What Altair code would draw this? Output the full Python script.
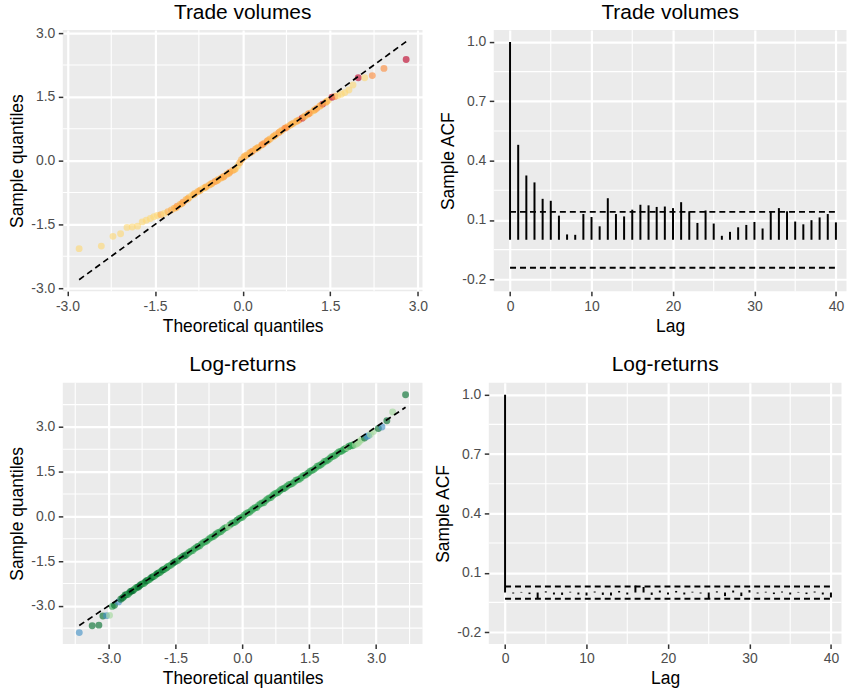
import altair as alt
import pandas as pd

FONT = "Liberation Sans"
PANEL_BG = "#EBEBEB"

# ---------------- Trade volumes: normal QQ plot ----------------
tv_theo = [-2.80, -2.42, -2.22, -2.09, -1.98, -1.89, -1.80, -1.72, -1.65, -1.58,
           -1.52, -1.46, -1.40, -1.34, -1.28, -1.22, -1.17, -1.12, -1.07, -1.02,
           -0.97, -0.92, -0.87, -0.82, -0.77, -0.72, -0.67, -0.62, -0.57, -0.52,
           -0.47, -0.42, -0.37, -0.32, -0.27, -0.22, -0.17, -0.12, -0.08, -0.05,
           -0.02, 0.02, 0.07, 0.12, 0.17, 0.22, 0.27, 0.32, 0.37, 0.42,
           0.47, 0.52, 0.57, 0.62, 0.67, 0.72, 0.77, 0.82, 0.87, 0.92,
           0.97, 1.02, 1.07, 1.12, 1.17, 1.22, 1.27, 1.32, 1.37, 1.42,
           1.47, 1.53, 1.58, 1.63, 1.69, 1.75, 1.82, 1.89, 1.98, 2.09,
           2.22, 2.42, 2.80,
           -1.14, -1.04, -0.94, -0.84, -0.74, -0.64, -0.54, -0.44, -0.34, -0.24,
           -0.14, 0.04, 0.14, 0.24, 0.34, 0.44, 0.54, 0.64, 0.74, 0.84,
           0.94, 1.04, 1.14, 1.24, 1.34, 1.44]
tv_sample = [-2.07, -2.01, -1.78, -1.72, -1.57, -1.56, -1.54, -1.44, -1.40, -1.36,
             -1.32, -1.29, -1.27, -1.24, -1.20, -1.16, -1.12, -1.07, -1.03, -0.98,
             -0.92, -0.87, -0.82, -0.77, -0.73, -0.69, -0.65, -0.61, -0.57, -0.53,
             -0.49, -0.45, -0.41, -0.37, -0.32, -0.27, -0.23, -0.19, -0.12, -0.05,
             0.02, 0.08, 0.13, 0.18, 0.22, 0.27, 0.31, 0.36, 0.41, 0.46,
             0.51, 0.56, 0.61, 0.66, 0.71, 0.76, 0.80, 0.84, 0.88, 0.92,
             0.96, 1.00, 1.05, 1.09, 1.13, 1.18, 1.23, 1.28, 1.33, 1.37,
             1.42, 1.49, 1.51, 1.53, 1.56, 1.60, 1.66, 1.78, 1.95, 1.95,
             2.00, 2.17, 2.38,
             -1.11, -1.01, -0.90, -0.80, -0.71, -0.63, -0.55, -0.47, -0.39, -0.30,
             -0.21, 0.11, 0.19, 0.29, 0.38, 0.48, 0.58, 0.68, 0.77, 0.86,
             0.94, 1.02, 1.11, 1.20, 1.30, 1.39]
tv_group = ["a", "a", "a", "a", "a", "a", "a", "a", "a", "a",
            "a", "a", "b", "a", "b", "b", "b", "c", "b", "c",
            "b", "b", "a", "b", "b", "b", "a", "b", "b", "b",
            "c", "b", "b", "c", "b", "c", "b", "a", "a", "b",
            "b", "b", "b", "b", "c", "b", "b", "b", "b", "c",
            "b", "b", "b", "c", "b", "c", "b", "b", "b", "b",
            "c", "d", "b", "b", "a", "b", "c", "b", "d", "b",
            "a", "d", "c", "a", "a", "a", "a", "a", "d", "a",
            "c", "c", "d",
            "b", "b", "b", "b", "b", "b", "b", "b", "b", "b",
            "b", "b", "b", "b", "c", "b", "b", "b", "c", "b",
            "b", "b", "c", "b", "b", "b"]
tv_palette = {"a": "#FED976", "b": "#FEB24C", "c": "#FD8D3C", "d": "#BD0026"}

# ---------------- Log-returns: normal QQ plot ----------------
lr_theo = [-3.66, -3.37, -3.22, -3.13, -3.05, -2.98, -2.92, -2.87, -2.78, -2.73,
           -2.66, -2.60, -2.54, -2.48, -2.42, -2.36, -2.30, -2.24, -2.18, -2.12,
           -2.06, -2.00, -1.94, -1.88, -1.82, -1.76, -1.70, -1.64, -1.56, -1.48,
           -1.40, -1.32, -1.24, -1.16, -1.08, -1.00, -0.92, -0.84, -0.76, -0.68,
           -0.60, -0.52, -0.44, -0.36, -0.28, -0.20, -0.12, -0.04, 0.04, 0.12,
           0.20, 0.28, 0.36, 0.44, 0.52, 0.60, 0.68, 0.76, 0.84, 0.92,
           1.00, 1.08, 1.16, 1.24, 1.32, 1.40, 1.48, 1.56, 1.64, 1.72,
           1.80, 1.88, 1.96, 2.04, 2.12, 2.20, 2.26, 2.32, 2.38, 2.44,
           2.50, 2.57, 2.63, 2.68, 2.74, 2.79, 2.83, 2.87, 2.94, 3.05,
           3.13, 3.24, 3.37, 3.66,
           -2.69, -2.63, -2.57, -2.51, -2.45, -2.39, -2.33, -2.27, -2.21, -2.15,
           -2.09, -2.03, -1.97, -1.91, -1.85, -1.79, -1.73, -1.67, -1.60, -1.52,
           -1.44, -1.36, -1.28, -1.20, -1.12, -1.04, -0.96, -0.88, -0.80, -0.72,
           -0.64, -0.56, -0.48, -0.40, -0.32, -0.24, -0.16, -0.08, 0.00, 0.08,
           0.16, 0.24, 0.32, 0.40, 0.48, 0.56, 0.64, 0.72, 0.80, 0.88,
           0.96, 1.04, 1.12, 1.20, 1.28, 1.36, 1.44, 1.52, 1.60, 1.68,
           1.76, 1.84, 1.92, 2.00, 2.08, 2.16, 2.23, 2.29, 2.35, 2.41,
           2.47, 2.53, 2.60]
lr_sample = [-3.90, -3.67, -3.65, -3.34, -3.33, -3.32, -3.02, -2.98, -2.87, -2.78,
             -2.70, -2.63, -2.57, -2.50, -2.44, -2.38, -2.32, -2.26, -2.20, -2.14,
             -2.08, -2.02, -1.96, -1.90, -1.84, -1.78, -1.72, -1.66, -1.57, -1.50,
             -1.41, -1.33, -1.26, -1.17, -1.09, -1.01, -0.93, -0.85, -0.77, -0.69,
             -0.61, -0.53, -0.45, -0.37, -0.29, -0.21, -0.13, -0.05, 0.04, 0.12,
             0.20, 0.29, 0.37, 0.45, 0.53, 0.62, 0.70, 0.78, 0.86, 0.93,
             1.01, 1.08, 1.15, 1.23, 1.30, 1.38, 1.46, 1.54, 1.62, 1.70,
             1.78, 1.86, 1.94, 2.02, 2.10, 2.18, 2.23, 2.28, 2.34, 2.38,
             2.41, 2.44, 2.52, 2.58, 2.63, 2.68, 2.71, 2.75, 2.85, 2.95,
             3.00, 3.21, 3.50, 4.08,
             -2.74, -2.64, -2.62, -2.52, -2.49, -2.40, -2.37, -2.28, -2.25, -2.16,
             -2.13, -2.04, -2.00, -1.92, -1.88, -1.80, -1.76, -1.68, -1.63, -1.53,
             -1.47, -1.37, -1.31, -1.21, -1.15, -1.05, -0.99, -0.88, -0.83, -0.72,
             -0.67, -0.56, -0.51, -0.40, -0.35, -0.24, -0.19, -0.08, -0.03, 0.09,
             0.14, 0.25, 0.30, 0.42, 0.46, 0.58, 0.63, 0.75, 0.80, 0.91,
             0.96, 1.06, 1.10, 1.21, 1.25, 1.36, 1.41, 1.52, 1.57, 1.68,
             1.73, 1.84, 1.89, 2.00, 2.05, 2.16, 2.19, 2.26, 2.30, 2.36,
             2.37, 2.40, 2.47]
lr_group = ["blue", "dark", "dark", "dark", "blue", "light", "mid", "dark", "blue", "dark",
            "mid", "dark", "dark", "dark", "mid", "dark", "dark", "mid", "dark", "mid",
            "dark", "dark", "mid", "dark", "mid", "mid", "dark", "mid", "dark", "mid",
            "mid", "dark", "mid", "mid", "mid", "dark", "mid", "mid", "mid", "mid",
            "dark", "mid", "mid", "mid", "mid", "mid", "dark", "mid", "mid", "mid",
            "mid", "mid", "mid", "mid", "mid", "mid", "mid", "mid", "mid", "dark",
            "mid", "mid", "mid", "mid", "mid", "mid", "dark", "mid", "mid", "mid",
            "mid", "mid", "mid", "mid", "mid", "mid", "mid", "mid", "dark", "mid",
            "mid", "light", "light", "light", "dark", "blue", "blue", "light", "light", "dark",
            "blue", "dark", "light", "dark",
            "dark", "dark", "mid", "dark", "dark", "mid", "dark", "dark", "mid", "dark",
            "mid", "dark", "mid", "dark", "mid", "dark", "mid", "mid", "mid", "dark",
            "mid", "mid", "dark", "mid", "mid", "mid", "mid", "mid", "mid", "mid",
            "mid", "mid", "mid", "mid", "light", "mid", "mid", "mid", "mid", "mid",
            "mid", "mid", "mid", "mid", "mid", "mid", "mid", "mid", "mid", "mid",
            "mid", "mid", "mid", "mid", "mid", "mid", "mid", "mid", "mid", "mid",
            "mid", "mid", "mid", "mid", "mid", "mid", "mid", "mid", "light", "mid",
            "mid", "light", "light"]
lr_palette = {"light": "#A1D99B", "mid": "#31A354", "dark": "#006D2C", "blue": "#4292C6"}

# ---------------- Sample autocorrelations ----------------
lags = list(range(41))
tv_acf = [1.0, 0.48, 0.325, 0.29, 0.207, 0.197, 0.122, 0.027, 0.025, 0.13,
          0.115, 0.068, 0.21, 0.13, 0.118, 0.152, 0.177, 0.174, 0.166, 0.168,
          0.16, 0.19, 0.144, 0.085, 0.148, 0.082, 0.02, 0.04, 0.063, 0.075,
          0.09, 0.057, 0.144, 0.16, 0.144, 0.092, 0.078, 0.099, 0.113, 0.13,
          0.088]
lr_acf = [1.0, -0.005, 0.003, -0.008, -0.028, 0.006, -0.01, -0.012, 0.004, -0.01,
          -0.015, 0.005, -0.012, -0.015, 0.008, -0.01, 0.035, 0.028, -0.012, 0.01,
          -0.01, 0.008, -0.01, 0.004, -0.005, -0.028, 0.006, -0.018, 0.01, -0.018,
          0.012, -0.005, 0.004, -0.008, 0.005, -0.01, 0.003, -0.008, 0.005, -0.01,
          -0.025]
tv_band = 0.141
lr_band = 0.031

# ---------------- Axis breaks ----------------
tv_qq_major = [-3.0, -1.5, 0.0, 1.5, 3.0]
tv_qq_minor = [-2.25, -0.75, 0.75, 2.25]
lr_qq_major = [-3.0, -1.5, 0.0, 1.5, 3.0]
lr_qq_minor = [-3.75, -2.25, -0.75, 0.75, 2.25, 3.75]
acf_y_major = [-0.2, 0.1, 0.4, 0.7, 1.0]
acf_y_minor = [-0.05, 0.25, 0.55, 0.85]
acf_x_major = [0, 10, 20, 30, 40]
acf_x_minor = [5, 15, 25, 35]

ONE_DECIMAL = "(datum.value < 0 ? '-' : '') + format(abs(datum.value), '.1f')"
DASH = [6, 4]
LINE_W = 2


def minor_grid(values, channel, scale, axis):
    df = pd.DataFrame({"m": values})
    base = alt.Chart(df).mark_rule(color="white", strokeWidth=1.1)
    if channel == "x":
        return base.encode(x=alt.X("m:Q", scale=scale, axis=axis))
    return base.encode(y=alt.Y("m:Q", scale=scale, axis=axis))


def panel_title(text, offset):
    return alt.TitleParams(text, offset=offset)


def qq_panel(theo, sample, group, palette, title, title_offset, xdom, ydom,
             xmajor, xminor, ymajor, yminor, width, height):
    xs = alt.Scale(domain=xdom, nice=False, zero=False)
    ys = alt.Scale(domain=ydom, nice=False, zero=False)
    xa = alt.Axis(values=xmajor, labelExpr=ONE_DECIMAL, title="Theoretical quantiles")
    ya = alt.Axis(values=ymajor, labelExpr=ONE_DECIMAL, title="Sample quantiles")

    pts = pd.DataFrame({"theo": theo, "sample": sample,
                        "colour": [palette[g] for g in group]})
    ends = pd.DataFrame({"theo": [min(theo), max(theo)], "sample": [min(theo), max(theo)]})

    points = alt.Chart(pts).mark_circle(size=48, opacity=0.62).encode(
        x=alt.X("theo:Q", scale=xs, axis=xa),
        y=alt.Y("sample:Q", scale=ys, axis=ya),
        color=alt.Color("colour:N", scale=None),
    )
    ref = alt.Chart(ends).mark_line(color="black", strokeWidth=LINE_W - 0.3, strokeDash=DASH).encode(
        x=alt.X("theo:Q", scale=xs, axis=xa),
        y=alt.Y("sample:Q", scale=ys, axis=ya),
    )
    return alt.layer(
        minor_grid(xminor, "x", xs, xa),
        minor_grid(yminor, "y", ys, ya),
        points,
        ref,
    ).properties(width=width, height=height, title=panel_title(title, title_offset))


def acf_panel(acf, band, title, title_offset, width, height):
    xs = alt.Scale(domain=[-2, 41.3], nice=False, zero=False)
    ys = alt.Scale(domain=[-0.26, 1.06], nice=False, zero=False)
    xa = alt.Axis(values=acf_x_major, format="d", title="Lag")
    ya = alt.Axis(values=acf_y_major, labelExpr=ONE_DECIMAL, title="Sample ACF")

    bars_df = pd.DataFrame({"lag": lags, "acf": acf, "base": [0.0] * len(lags)})
    band_df = pd.DataFrame({"start": [min(lags)] * 2, "end": [max(lags)] * 2,
                            "level": [band, -band]})

    bars = alt.Chart(bars_df).mark_rule(color="black", strokeWidth=LINE_W).encode(
        x=alt.X("lag:Q", scale=xs, axis=xa),
        y=alt.Y("acf:Q", scale=ys, axis=ya),
        y2="base:Q",
    )
    bands = alt.Chart(band_df).mark_rule(color="black", strokeWidth=LINE_W, strokeDash=DASH).encode(
        x=alt.X("start:Q", scale=xs, axis=xa),
        x2="end:Q",
        y=alt.Y("level:Q", scale=ys, axis=ya),
    )
    return alt.layer(
        minor_grid(acf_x_minor, "x", xs, xa),
        minor_grid(acf_y_minor, "y", ys, ya),
        bars,
        bands,
    ).properties(width=width, height=height, title=panel_title(title, title_offset))


# the top "3.0" label of the first panel reaches above its plot area, which
# lifts that title; its offset is reduced so both top titles sit level
tv_qq = qq_panel(tv_theo, tv_sample, tv_group, tv_palette, "Trade volumes", 3,
                 [-3.08, 3.08], [-3.07, 3.07], tv_qq_major, tv_qq_minor,
                 tv_qq_major, tv_qq_minor, 361, 262)
lr_qq = qq_panel(lr_theo, lr_sample, lr_group, lr_palette, "Log-returns", 7,
                 [-4.03, 4.04], [-4.28, 4.48], lr_qq_major, lr_qq_minor,
                 lr_qq_major, lr_qq_minor, 361, 262)
tv_acf_chart = acf_panel(tv_acf, tv_band, "Trade volumes", 7, 354, 262)
lr_acf_chart = acf_panel(lr_acf, lr_band, "Log-returns", 7, 354, 262)

chart = alt.vconcat(
    alt.hconcat(tv_qq, tv_acf_chart, spacing=10.5),
    alt.hconcat(lr_qq, lr_acf_chart, spacing=10.5),
    spacing=19,
).properties(
    padding={"left": 8, "top": 0, "right": 0, "bottom": 0},
    background="white",
).configure_view(
    fill=PANEL_BG, strokeWidth=0,
).configure_axis(
    grid=True, gridColor="white", gridWidth=2.2,
    domain=False,
    tickColor="#333333", tickSize=4.5, tickWidth=1.5,
    labelFont=FONT, labelFontSize=14, labelColor="#4D4D4D", labelPadding=3.5,
    titleFont=FONT, titleFontSize=17.5, titleFontWeight="normal", titleColor="black",
    titlePadding=4,
).configure_title(
    font=FONT, fontSize=21, fontWeight="normal", color="black",
    anchor="middle", frame="group",
)

chart.save("out.html", embed_options={"renderer": "svg", "actions": False})
